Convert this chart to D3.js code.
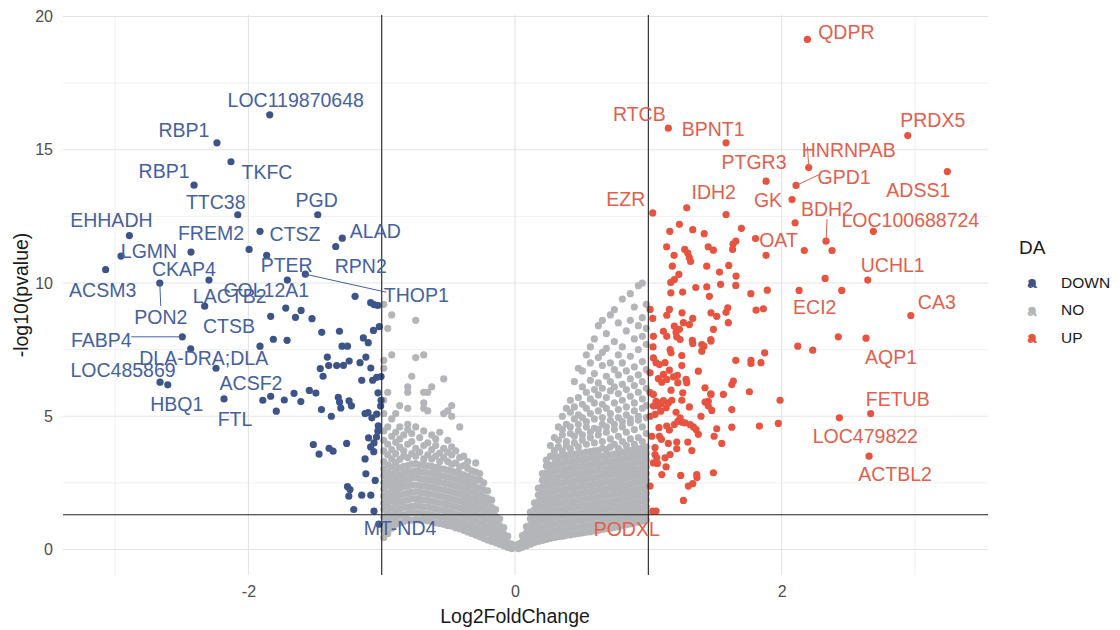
<!DOCTYPE html>
<html>
<head>
<meta charset="utf-8">
<script src="https://cdn.jsdelivr.net/npm/d3@7"></script>
<style>
  body { margin: 0; background: #ffffff; }
  svg { display: block; }
  text { font-family: "Liberation Sans", Arial, Helvetica, sans-serif; }
</style>
</head>
<body>
<svg id="chart" width="1120" height="630"></svg>
<script>
// ---- Differential abundance results: log2 fold change vs -log10(p) ----

// Labelled genes (significant down / up)
const downGenes = ["LOC119870648","RBP1","TKFC","RBP1","TTC38","PGD","EHHADH","FREM2","CTSZ","ALAD","RPN2","LGMN","CKAP4","PTER","ACSM3","COL12A1","LACTB2","THOP1","PON2","CTSB","FABP4","DLA-DRA;DLA","LOC485869","HBQ1","ACSF2","FTL","MT-ND4"];
const downFC = [-1.840,-2.236,-2.131,-2.408,-2.080,-1.480,-2.893,-2.431,-1.913,-1.296,-1.345,-2.956,-2.296,-1.863,-3.071,-1.708,-2.328,-1.573,-2.665,-1.913,-2.496,-2.433,-2.663,-2.605,-2.243,-2.183,-1.020];
const downP = [16.31,15.26,14.55,13.67,12.56,12.56,11.78,11.16,11.94,11.68,11.37,11.01,10.11,11.04,10.50,10.11,9.13,10.33,10.00,7.63,7.98,7.53,6.28,6.18,6.80,5.65,0.95];

const upGenes = ["QDPR","RTCB","BPNT1","PRDX5","HNRNPAB","PTGR3","GPD1","EZR","IDH2","GK","ADSS1","BDH2","LOC100688724","OAT","UCHL1","CA3","ECI2","AQP1","FETUB","LOC479822","ACTBL2","PODXL"];
const upFC = [2.193,1.150,1.583,2.946,2.203,1.883,2.108,1.033,1.288,2.078,3.243,2.333,2.688,1.804,2.646,2.969,2.451,2.633,2.668,2.433,2.656,1.033];
const upP = [19.14,15.81,15.26,15.53,14.33,13.82,13.66,12.63,12.82,13.13,14.18,11.57,11.94,11.67,10.11,8.78,9.72,7.93,5.10,4.94,3.50,1.44];

// Other significant genes, [log2FC, -log10 p]
const downOther = [[-1.200,9.50],[-1.083,9.26],[-1.058,9.19],[-1.030,9.16],[-1.833,8.75],[-1.720,9.06],[-1.647,8.71],[-1.605,8.97],[-1.523,8.66],[-1.450,8.15],[-1.317,8.19],[-1.813,7.89],[-1.710,7.85],[-1.298,7.63],[-1.257,7.63],[-1.138,7.94],[-1.101,7.76],[-1.062,8.22],[-1.018,8.36],[-1.408,7.22],[-1.461,6.79],[-1.440,6.50],[-1.398,6.90],[-1.338,6.90],[-1.287,6.91],[-1.244,7.07],[-1.163,7.01],[-1.119,7.22],[-1.082,6.81],[-1.150,6.35],[-1.068,6.35],[-1.038,6.46],[-1.005,6.49],[-1.028,5.88],[-1.892,5.60],[-1.833,5.75],[-1.791,5.19],[-1.731,5.61],[-1.658,5.86],[-1.607,5.55],[-1.543,5.97],[-1.494,5.87],[-1.452,5.25],[-1.378,5.00],[-1.326,5.71],[-1.316,5.53],[-1.307,5.31],[-1.245,5.58],[-1.227,5.39],[-1.125,5.10],[-1.103,5.14],[-1.074,4.94],[-1.038,5.08],[-1.005,5.60],[-1.008,5.38],[-1.026,4.64],[-1.029,4.44],[-1.039,4.22],[-1.058,4.00],[-1.083,3.85],[-1.060,3.67],[-1.099,4.19],[-1.513,3.94],[-1.470,3.58],[-1.395,3.80],[-1.365,3.69],[-1.263,3.98],[-1.125,3.40],[-1.119,2.84],[-1.049,2.59],[-1.257,2.36],[-1.238,2.25],[-1.247,2.00],[-1.150,2.04],[-1.082,2.04],[-1.210,1.50],[-1.058,1.44],[-1.995,11.26]];

const upOther = [[1.583,12.57],[2.101,12.26],[1.161,11.94],[1.233,12.20],[1.333,12.00],[1.419,11.85],[1.698,12.05],[1.656,11.57],[1.635,11.46],[2.170,11.22],[2.378,11.22],[1.883,11.04],[1.137,11.36],[1.193,11.04],[1.273,11.26],[1.296,11.12],[1.307,10.96],[1.317,10.81],[1.449,11.36],[1.488,11.23],[1.632,11.26],[1.180,10.63],[1.438,10.63],[1.534,10.41],[1.603,10.66],[1.658,10.26],[1.229,10.32],[1.195,10.13],[1.168,10.02],[2.326,10.17],[1.356,9.83],[1.438,9.86],[1.542,9.95],[1.656,9.91],[1.169,9.63],[1.257,9.66],[1.458,9.50],[1.769,9.60],[1.892,9.73],[2.131,9.72],
[1.158,9.01],[1.138,8.79],[1.253,8.88],[1.333,8.67],[1.308,8.44],[1.263,8.51],[1.470,8.88],[1.513,8.75],[1.596,9.07],[1.583,8.90],[1.600,8.51],[1.808,8.98],[1.863,9.03],[1.033,8.67],[1.038,8.00],[1.035,7.60],[1.113,8.19],[1.138,8.00],[1.195,8.38],[1.208,8.15],[1.233,8.26],[1.213,7.98],[1.238,7.88],[1.330,7.85],[1.401,7.69],[1.488,8.26],[1.468,7.88],[1.417,7.63],
[1.038,7.19],[1.058,7.01],[1.083,6.94],[1.125,7.01],[1.163,7.50],[1.170,7.38],[1.251,7.28],[1.251,6.90],[1.333,7.73],[1.401,7.44],[1.470,7.82],[1.656,7.10],[1.770,7.10],[1.770,6.98],[1.845,7.01],[1.873,7.38],[1.013,6.63],[1.075,6.41],[1.113,6.57],[1.101,6.28],[1.138,6.38],[1.158,6.73],[1.188,6.48],[1.218,6.53],[1.221,6.26],[1.283,6.38],[1.288,6.26],[1.170,5.98],[1.258,5.88],[1.251,5.60],[1.375,6.69],[1.425,6.07],[1.468,5.84],[1.563,5.82],[1.626,6.19],[1.638,6.32],[1.758,5.92],[1.988,5.60],[1.038,5.82],[1.038,5.38],[1.058,5.56],[1.075,5.38],[1.093,5.48],[1.113,5.59],[1.150,5.50],[1.176,5.60],[1.093,5.19],[1.133,5.32],[1.050,5.07],[1.308,5.35],[1.425,5.53],[1.450,5.56],[1.450,5.38],[1.476,5.22],[1.208,5.15],[1.238,4.94],[1.221,4.81],[1.195,4.69],[1.251,4.78],[1.275,4.75],[1.313,4.69],[1.338,4.60],[1.358,4.50],[1.375,4.32],[1.080,4.57],[1.138,4.63],[1.158,4.48],[1.083,4.25],[1.098,4.13],[1.395,5.00],[1.626,5.25],[1.626,4.59],[1.513,4.53],[1.493,4.25],[1.551,3.98],[1.833,4.63],[1.975,4.73],[1.213,4.03],[1.150,3.98],[1.213,3.78],[1.296,4.03],[1.326,3.71],[1.050,3.82],[1.050,3.56],[1.063,3.44],[1.068,3.23],[1.125,3.44],[1.133,3.10],[1.163,3.56],[1.101,2.81],[1.243,2.78],[1.363,2.81],[1.365,2.70],[1.333,2.47],[1.300,2.38],[1.488,2.88],[1.263,1.84],[1.013,2.38],[1.058,1.44],
[2.121,7.63],[2.233,7.48],[2.425,7.98],[1.470,5.82],[1.013,9.01],[1.013,5.89],[1.026,4.25],[1.038,3.25],[1.013,5.00]];

// Non-significant genes, grouped by log2FC: [log2FC, [-log10 p values]]
const noGroups = [
  [-0.985,[0.45,0.72,0.95,1.22,1.5,1.74,2.0,2.27,2.5,2.78,3.02,3.3,3.7,4.1,4.45,5.1,5.6,6.8,7.1,9.2]],
  [-0.955,[0.6,0.88,1.1,1.36,1.62,1.88,2.12,2.4,2.65,2.9,3.18,3.55,3.95,4.6,5.9,8.3]],
  [-0.925,[0.8,1.05,1.3,1.55,1.82,2.05,2.32,2.58,2.82,3.1,3.4,3.75,4.25,4.9,7.3,8.8]],
  [-0.895,[0.95,1.2,1.45,1.72,1.96,2.22,2.48,2.72,2.98,3.25,3.6,4.02,4.4,5.1]],
  [-0.865,[1.0,1.28,1.52,1.78,2.04,2.3,2.55,2.8,3.06,3.38,3.84,4.15,4.6,5.4]],
  [-0.835,[1.05,1.3,1.58,1.82,2.08,2.35,2.6,2.86,3.12,3.5,3.7,4.3]],
  [-0.805,[1.1,1.35,1.6,1.86,2.12,2.38,2.64,2.9,3.15,3.45,3.95,4.5,4.7,5.3,5.9,6.1]],
  [-0.775,[1.1,1.38,1.62,1.9,2.15,2.42,2.68,2.92,3.2,3.6,4.05,4.35,6.5]],
  [-0.745,[1.12,1.38,1.65,1.9,2.16,2.42,2.7,2.95,3.22,3.5,3.8,4.6,7.2,8.6]],
  [-0.715,[1.1,1.36,1.62,1.88,2.14,2.4,2.66,2.92,3.18,3.65,4.2]],
  [-0.685,[1.1,1.35,1.6,1.86,2.12,2.38,2.64,2.9,3.16,3.4,3.9,4.45,5.3,5.5,5.9,7.3]],
  [-0.655,[1.08,1.34,1.6,1.85,2.1,2.36,2.62,2.88,3.14,3.55,4.0,5.2,5.9]],
  [-0.625,[1.05,1.3,1.56,1.82,2.08,2.34,2.6,2.86,3.12,3.4,3.75,4.3,6.1]],
  [-0.595,[1.0,1.26,1.52,1.78,2.04,2.3,2.56,2.82,3.08,3.5,3.9,4.15]],
  [-0.565,[0.98,1.22,1.48,1.74,2.0,2.26,2.52,2.78,3.04,3.3,3.62,4.4]],
  [-0.535,[0.95,1.2,1.46,1.72,1.98,2.24,2.5,2.76,3.02,3.45,3.8,5.1,6.4]],
  [-0.505,[0.9,1.16,1.42,1.68,1.94,2.2,2.46,2.72,2.98,3.3,3.65,4.1,5.2]],
  [-0.475,[0.88,1.12,1.38,1.64,1.9,2.16,2.42,2.68,2.94,3.2,3.55,3.85,5.0,5.4]],
  [-0.445,[0.82,1.08,1.34,1.6,1.86,2.12,2.38,2.64,2.9,3.25,3.7]],
  [-0.415,[0.78,1.04,1.3,1.56,1.82,2.08,2.34,2.6,2.86,3.1,3.45,4.6]],
  [-0.385,[0.72,0.98,1.24,1.5,1.76,2.02,2.28,2.54,2.8,3.15,3.5]],
  [-0.355,[0.66,0.92,1.18,1.44,1.7,1.96,2.22,2.48,2.74,3.05,3.3]],
  [-0.325,[0.6,0.86,1.12,1.38,1.64,1.9,2.16,2.42,2.68,2.95]],
  [-0.295,[0.54,0.8,1.06,1.32,1.58,1.84,2.1,2.36,2.62,2.9,3.25]],
  [-0.265,[0.48,0.74,1.0,1.26,1.52,1.78,2.04,2.3,2.6,2.85]],
  [-0.235,[0.42,0.68,0.94,1.2,1.46,1.72,1.98,2.24,2.5]],
  [-0.205,[0.36,0.62,0.88,1.14,1.4,1.66,1.92,2.2]],
  [-0.175,[0.3,0.55,0.8,1.06,1.32,1.58,1.85]],
  [-0.145,[0.25,0.48,0.72,0.98,1.24,1.5]],
  [-0.115,[0.2,0.42,0.66,0.9,1.15]],
  [-0.085,[0.14,0.36,0.58,0.82]],
  [-0.055,[0.08,0.28,0.5]],
  [-0.025,[0.03,0.2]],
  [0.025,[0.03,0.2]],
  [0.055,[0.08,0.3,0.52]],
  [0.085,[0.14,0.38,0.62,0.86]],
  [0.115,[0.2,0.44,0.68,0.92,1.16,1.4]],
  [0.145,[0.26,0.5,0.75,1.0,1.25,1.5,1.75]],
  [0.175,[0.3,0.55,0.8,1.05,1.3,1.55,1.8,2.05,2.3]],
  [0.205,[0.34,0.6,0.85,1.1,1.35,1.6,1.85,2.1,2.35,2.6,2.85]],
  [0.235,[0.38,0.63,0.88,1.13,1.38,1.63,1.88,2.13,2.38,2.63,2.88,3.13,3.35]],
  [0.265,[0.42,0.67,0.92,1.17,1.42,1.67,1.92,2.17,2.42,2.67,2.92,3.17,3.5,3.9]],
  [0.295,[0.45,0.7,0.95,1.2,1.45,1.7,1.95,2.2,2.45,2.7,2.95,3.2,3.45,3.7,4.2]],
  [0.325,[0.48,0.73,0.98,1.23,1.48,1.73,1.98,2.23,2.48,2.73,2.98,3.23,3.48,3.85,4.1,4.6]],
  [0.355,[0.5,0.75,1.0,1.25,1.5,1.75,2.0,2.25,2.5,2.75,3.0,3.25,3.5,3.7,4.3,4.5,5.0]],
  [0.385,[0.53,0.78,1.03,1.28,1.53,1.78,2.03,2.28,2.53,2.78,3.03,3.28,3.53,3.9,4.05,4.7,5.3]],
  [0.415,[0.55,0.8,1.05,1.3,1.55,1.8,2.05,2.3,2.55,2.8,3.05,3.3,3.55,3.78,4.35,4.6,5.15,5.6]],
  [0.445,[0.58,0.83,1.08,1.33,1.58,1.83,2.08,2.33,2.58,2.83,3.08,3.33,3.58,4.0,4.25,4.9,5.35,6.3]],
  [0.475,[0.6,0.85,1.1,1.35,1.6,1.85,2.1,2.35,2.6,2.85,3.1,3.35,3.6,3.85,4.45,4.7,5.05,5.7,6.8]],
  [0.505,[0.62,0.87,1.12,1.37,1.62,1.87,2.12,2.37,2.62,2.87,3.12,3.37,3.62,4.1,4.3,4.95,5.45,6.1,6.7]],
  [0.535,[0.65,0.9,1.15,1.4,1.65,1.9,2.15,2.4,2.65,2.9,3.15,3.4,3.65,3.95,4.6,4.8,5.3,5.9,7.3]],
  [0.565,[0.67,0.92,1.17,1.42,1.67,1.92,2.17,2.42,2.67,2.92,3.17,3.42,3.67,4.2,4.4,5.1,5.65,6.35,7.0,7.6]],
  [0.595,[0.7,0.95,1.2,1.45,1.7,1.95,2.2,2.45,2.7,2.95,3.2,3.45,3.7,4.0,4.55,4.9,5.5,6.0,6.6,7.9]],
  [0.625,[0.72,0.97,1.22,1.47,1.72,1.97,2.22,2.47,2.72,2.97,3.22,3.47,3.72,4.3,4.5,5.2,5.8,6.25,7.2,8.4]],
  [0.655,[0.75,1.0,1.25,1.5,1.75,2.0,2.25,2.5,2.75,3.0,3.25,3.5,3.8,4.05,4.7,4.95,5.45,6.05,6.9,7.4,8.6]],
  [0.685,[0.78,1.03,1.28,1.53,1.78,2.03,2.28,2.53,2.78,3.03,3.28,3.53,3.75,4.4,4.6,5.3,5.7,6.5,7.55,8.1]],
  [0.715,[0.8,1.05,1.3,1.55,1.8,2.05,2.3,2.55,2.8,3.05,3.3,3.55,3.85,4.15,4.85,5.1,5.95,6.3,7.0,8.8]],
  [0.745,[0.83,1.08,1.33,1.58,1.83,2.08,2.33,2.58,2.83,3.08,3.33,3.58,3.95,4.5,4.7,5.5,6.1,6.75,7.8,9.0]],
  [0.775,[0.86,1.11,1.36,1.61,1.86,2.11,2.36,2.61,2.86,3.11,3.36,3.61,3.8,4.25,4.95,5.25,5.85,6.55,7.3,8.5]],
  [0.805,[0.9,1.15,1.4,1.65,1.9,2.15,2.4,2.65,2.9,3.15,3.4,3.65,4.05,4.6,4.8,5.6,6.2,7.0,7.6,9.4]],
  [0.835,[0.93,1.18,1.43,1.68,1.93,2.18,2.43,2.68,2.93,3.18,3.43,3.68,3.9,4.4,5.05,5.35,6.0,6.7,8.2]],
  [0.865,[0.96,1.21,1.46,1.71,1.96,2.21,2.46,2.71,2.96,3.21,3.46,3.71,4.15,4.75,4.9,5.75,6.4,7.25,8.6,9.6]],
  [0.895,[1.0,1.25,1.5,1.75,2.0,2.25,2.5,2.75,3.0,3.25,3.5,3.75,3.95,4.5,5.2,5.5,6.15,6.85,7.9,9.1]],
  [0.925,[1.03,1.28,1.53,1.78,2.03,2.28,2.53,2.78,3.03,3.28,3.53,3.78,4.2,4.85,5.0,5.9,6.55,7.5,8.4,9.9]],
  [0.955,[1.06,1.31,1.56,1.81,2.06,2.31,2.56,2.81,3.06,3.31,3.56,3.81,4.05,4.6,5.3,5.65,6.3,7.05,8.0,8.7,10.0]],
  [0.985,[1.1,1.35,1.6,1.85,2.1,2.35,2.6,2.85,3.1,3.35,3.6,3.85,4.35,4.95,5.4,6.05,6.75,7.7,8.3,9.2]]
];

// Thresholds and axis ticks
const fcCut = [-1, 1];
const pCut = -Math.log10(0.05);
const xTicks = [-2, 0, 2];
const yTicks = [0, 5, 10, 15, 20];
const xGrid = [-3, -2, -1, 0, 1, 2, 3];
const yGrid = [0, 2.5, 5, 7.5, 10, 12.5, 15, 17.5, 20];
const legendLevels = ["DOWN", "NO", "UP"];

// ---- layout (pixel offsets of each label from its point; third entry = draw a segment) ----
const downLabelLayout = [[26,-15],[-33,-13],[36,10],[-30,-14],[-22,-13],[-1,-15],[-18,-16],[20,-19],[35,3],[33,-7],[25,19],[28,-5],[-25,-11],[20,10],[-3,20],[-21,10],[25,-10],[111,21,1],[1,34,1],[-31,-20],[-81,3,1],[13,9],[-37,-12],[9,19],[35,15],[11,20],[21,4]];
const upLabelLayout = [[39,-7],[-29,-14],[-13,-14],[25,-16],[40,-18,1],[-12,-19],[48,-8,1],[-27,-14],[27,-16],[-24,0],[-29,18],[1,-32,1],[37,-11],[23,1],[25,-15],[26,-14],[-27,17],[25,19],[27,-15],[26,18],[26,18],[-26,18]];

const colors = { DOWN: "#3C5488", NO: "#B4B5B8", UP: "#E7533F" };
const textColors = { DOWN: "#45619F", UP: "#E25F4E" };

const svg = d3.select("#chart");
const P = { left: 63, right: 988, top: 15, bottom: 575 };

const x = d3.scaleLinear().domain([-3.391, 3.548]).range([P.left, P.right]);
const y = d3.scaleLinear().domain([-0.957, 20.056]).range([P.bottom, P.top]);

// grid
const grid = svg.append("g");
grid.selectAll("line.v").data(xGrid).join("line")
  .attr("x1", d => x(d)).attr("x2", d => x(d))
  .attr("y1", P.top).attr("y2", P.bottom)
  .attr("stroke", d => Number.isInteger(d / 2) ? "#E4E4E4" : "#ECECEC")
  .attr("stroke-width", d => Number.isInteger(d / 2) ? 1.1 : 0.8);
grid.selectAll("line.h").data(yGrid).join("line")
  .attr("x1", P.left).attr("x2", P.right)
  .attr("y1", d => y(d)).attr("y2", d => y(d))
  .attr("stroke", d => d % 5 === 0 ? "#E4E4E4" : "#ECECEC")
  .attr("stroke-width", d => d % 5 === 0 ? 1.1 : 0.8);

// axes (text only, minimal theme)
const xAxis = svg.append("g").attr("transform", `translate(0,${P.bottom})`)
  .call(d3.axisBottom(x).tickValues(xTicks).tickSize(0).tickPadding(11).tickFormat(d3.format("d")));
const yAxis = svg.append("g").attr("transform", `translate(${P.left},0)`)
  .call(d3.axisLeft(y).tickValues(yTicks).tickSize(0).tickPadding(10).tickFormat(d3.format("d")));
[xAxis, yAxis].forEach(g => {
  g.select(".domain").remove();
  g.selectAll("text").attr("fill", "#4D4D4D").attr("font-size", 16)
    .attr("font-family", "'Liberation Sans', Arial, sans-serif");
});
xAxis.selectAll("text").text(d => d < 0 ? "-" + Math.abs(d) : d);

svg.append("text").attr("x", x(0)).attr("y", 623).attr("text-anchor", "middle")
  .attr("font-size", 19.5).attr("fill", "#1A1A1A").text("Log2FoldChange");
svg.append("text").attr("transform", `translate(28,${(P.top + P.bottom) / 2}) rotate(-90)`)
  .attr("text-anchor", "middle").attr("font-size", 19.5).attr("fill", "#1A1A1A").text("-log10(pvalue)");

// points
const noPts = noGroups.flatMap(([fc, ps]) => ps.map(p => [fc, p]));
const downPts = downOther.concat(downFC.map((fc, i) => [fc, downP[i]]));
const upPts = upOther.concat(upFC.map((fc, i) => [fc, upP[i]]));
const R = 3.6;
const pts = svg.append("g");
[["NO", noPts], ["DOWN", downPts], ["UP", upPts]].forEach(([k, arr]) => {
  pts.append("g").selectAll("circle").data(arr).join("circle")
    .attr("cx", d => x(d[0])).attr("cy", d => y(d[1])).attr("r", R)
    .attr("fill", colors[k]);
});

// threshold lines
const ref = svg.append("g").attr("stroke", "#222").attr("stroke-width", 1.1);
ref.selectAll("line.v").data(fcCut).join("line")
  .attr("x1", d => x(d)).attr("x2", d => x(d)).attr("y1", P.top).attr("y2", P.bottom);
ref.append("line").attr("x1", P.left).attr("x2", P.right).attr("y1", y(pCut)).attr("y2", y(pCut));

// gene labels
function drawLabels(genes, fcs, ps, layout, key) {
  const g = svg.append("g");
  genes.forEach((name, i) => {
    const px = x(fcs[i]), py = y(ps[i]);
    const [dx, dy, seg] = layout[i];
    const tx = px + dx, ty = py + dy;
    if (seg) {
      const w = name.length * 5.6;
      let ex = tx, ey = ty;
      if (Math.abs(dx) > Math.abs(dy)) { ex = dx > 0 ? tx - w - 2 : tx + w + 2; ey = ty - 3; }
      else { ey = dy > 0 ? ty - 11 : ty + 10; }
      g.append("line").attr("x1", px).attr("y1", py).attr("x2", ex).attr("y2", ey)
        .attr("stroke", textColors[key]).attr("stroke-width", 1);
    }
    g.append("text").attr("x", tx).attr("y", ty).attr("dy", "0.36em")
      .attr("text-anchor", "middle").attr("font-size", 19.5)
      .attr("fill", textColors[key]).text(name);
  });
}
drawLabels(downGenes, downFC, downP, downLabelLayout, "DOWN");
drawLabels(upGenes, upFC, upP, upLabelLayout, "UP");

// legend
const leg = svg.append("g").attr("transform", "translate(1019,0)");
leg.append("text").attr("x", 0).attr("y", 247).attr("dy", "0.36em")
  .attr("font-size", 19).attr("fill", "#1A1A1A").text("DA");
const ly = d3.scalePoint().domain(legendLevels).range([282, 337]);
legendLevels.forEach(k => {
  const row = leg.append("g").attr("transform", `translate(0,${ly(k)})`);
  row.append("circle").attr("cx", 13).attr("cy", 1).attr("r", 3.4).attr("fill", colors[k]);
  row.append("text").attr("x", 13).attr("y", 0).attr("dy", "0.36em").attr("text-anchor", "middle")
    .attr("font-size", 17).attr("font-weight", "bold").attr("fill", colors[k]).text("a");
  row.append("text").attr("x", 42).attr("y", 0).attr("dy", "0.36em")
    .attr("font-size", 15.5).attr("fill", "#1A1A1A").text(k);
});
</script>
</body>
</html>
